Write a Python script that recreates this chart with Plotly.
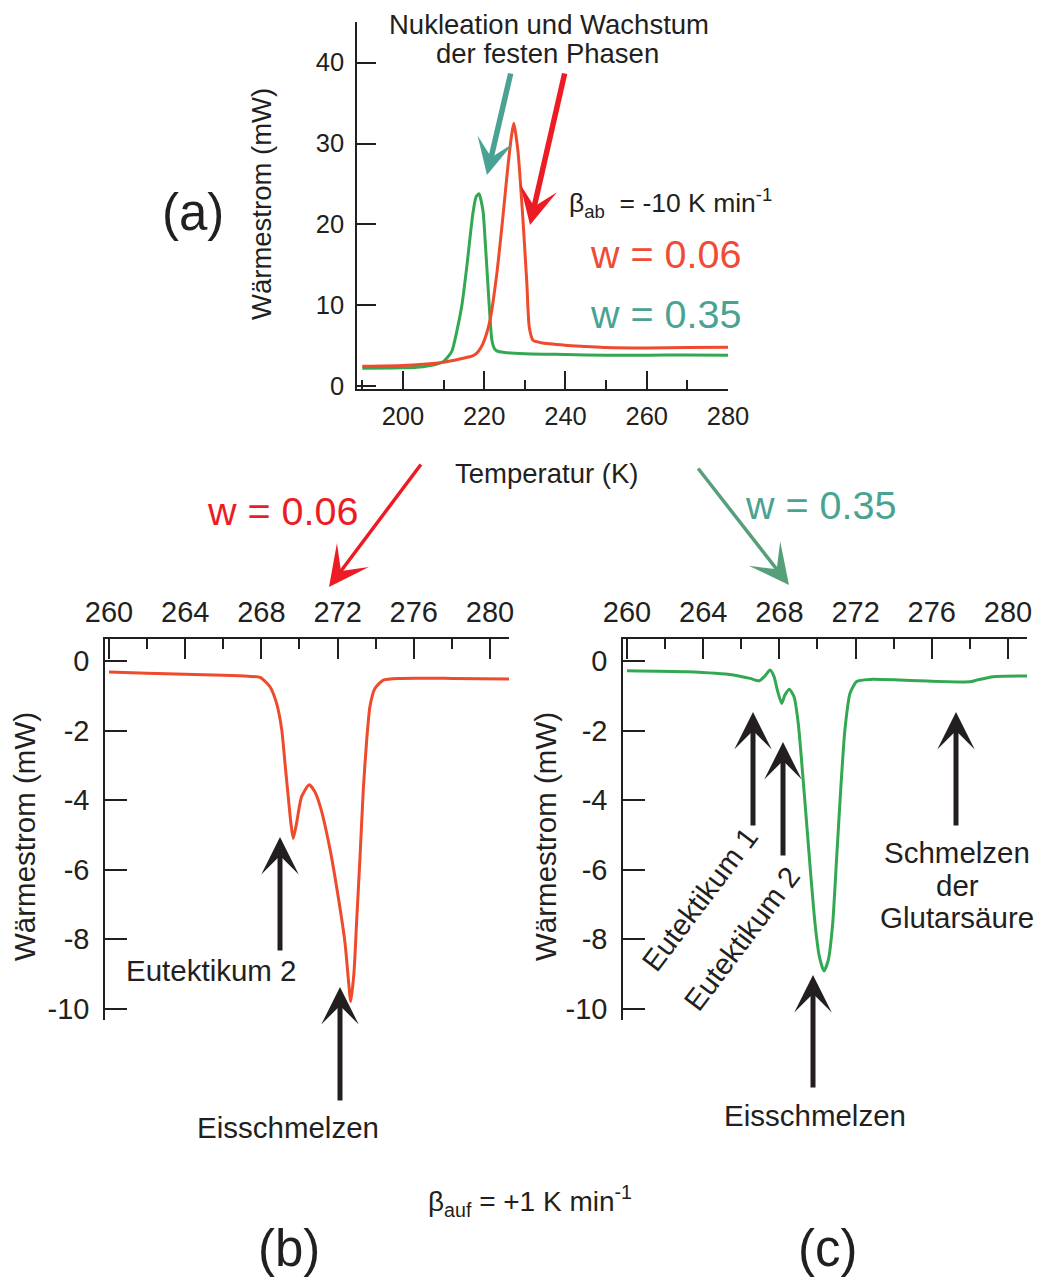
import plotly.graph_objects as go

W, H = 1039, 1282

# ---------------- data ----------------
# Panel (a): cooling run, beta_ab = -10 K/min
a_T_035 = [190, 200, 205, 208, 210, 212, 213.3, 214.5, 215.7, 217.2, 218.0, 218.7, 219.7,
           220.3, 220.9, 221.5, 221.9, 222.5, 223.1, 225, 230, 240, 250, 260, 270, 280]
a_Q_035 = [2.25, 2.3, 2.45, 2.7, 3.1, 4.3, 6.9, 10.0, 14.7, 21.3, 23.4, 23.8, 21.7,
           17.5, 12.7, 8.0, 5.7, 4.7, 4.4, 4.2, 4.05, 3.95, 3.85, 3.85, 3.9, 3.85]
a_T_006 = [190, 200, 205, 210, 214, 217.3, 218.5, 219.7, 221.4, 223.1, 224.6, 225.8, 226.8,
           227.3, 228.3, 229.5, 230.5, 231.1, 232.0, 234, 240, 245, 250, 260, 270, 280]
a_Q_006 = [2.5, 2.6, 2.75, 3.0, 3.4, 3.8, 4.3, 5.3, 8.1, 13.9, 20.9, 27.0, 31.2,
           32.5, 29.1, 20.9, 12.7, 7.3, 5.7, 5.4, 5.1, 4.95, 4.8, 4.75, 4.8, 4.85]

# Panel (b): heating run, w = 0.06
b_T = [260, 262, 264, 266, 267.3, 267.93, 268.45, 268.8, 269.07, 269.24, 269.41, 269.55, 269.67,
       269.85, 270.11, 270.51, 270.8, 271.1, 271.6, 272.04, 272.39, 272.57, 272.69, 272.86,
       273.0, 273.18, 273.35, 273.53, 273.7, 273.96, 274.4, 275.3, 278, 281]
b_Q = [-0.32, -0.35, -0.38, -0.41, -0.44, -0.47, -0.74, -1.22, -1.98, -2.94, -3.9, -4.66, -5.1,
       -4.66, -3.9, -3.56, -3.75, -4.2, -5.4, -6.8, -8.1, -9.17, -9.79, -8.97,
       -7.5, -5.62, -3.7, -2.27, -1.31, -0.79, -0.55, -0.5, -0.5, -0.52]

# Panel (c): heating run, w = 0.35
c_T = [260, 263.13, 265.58, 266.46, 266.95, 267.24, 267.51, 267.72, 267.89, 268.12, 268.29, 268.52,
       268.77, 268.99, 269.22, 269.43, 269.64, 269.87, 270.1, 270.34, 270.57, 270.8, 271.01,
       271.22, 271.44, 271.71, 272.06, 272.76, 275.38, 278.0, 278.36, 279.23, 281.0]
c_Q = [-0.28, -0.31, -0.4, -0.5, -0.57, -0.43, -0.26, -0.45, -0.83, -1.22, -0.98, -0.81,
       -1.03, -1.79, -3.23, -4.66, -6.1, -7.54, -8.5, -8.91, -8.59, -7.54, -5.62,
       -3.7, -1.98, -0.93, -0.59, -0.53, -0.57, -0.6, -0.55, -0.45, -0.43]

a_xticks = [200, 220, 240, 260, 280]
a_yticks = [0, 10, 20, 30, 40]
bc_xticks = [260, 264, 268, 272, 276, 280]
bc_yticks = [0, -2, -4, -6, -8, -10]
bc_ytext = ["0", "-2", "-4", "-6", "-8", "-10"]

# ---------------- styling ----------------
FONT = "Liberation Sans, Arial, Helvetica, sans-serif"
DARK = "#231F20"
RED_CURVE = "#EE4A2C"
GREEN_CURVE = "#33A852"
RED_TXT = "#EF4B36"
RED_ARROW = "#ED1C24"
TEAL = "#4AA392"
GREEN_ARROW = "#55A07A"


def px(x):
    return x / W


def py(y):
    return 1 - y / H


fig = go.Figure()
line_kw = dict(width=3, shape="spline", smoothing=0.6)
fig.add_trace(go.Scatter(x=a_T_035, y=a_Q_035, mode="lines", line=dict(color=GREEN_CURVE, **line_kw),
                         xaxis="x", yaxis="y", showlegend=False))
fig.add_trace(go.Scatter(x=a_T_006, y=a_Q_006, mode="lines", line=dict(color=RED_CURVE, **line_kw),
                         xaxis="x", yaxis="y", showlegend=False))
fig.add_trace(go.Scatter(x=b_T, y=b_Q, mode="lines", line=dict(color=RED_CURVE, **line_kw),
                         xaxis="x2", yaxis="y2", showlegend=False))
fig.add_trace(go.Scatter(x=c_T, y=c_Q, mode="lines", line=dict(color=GREEN_CURVE, **line_kw),
                         xaxis="x3", yaxis="y3", showlegend=False))


def axis(size, **kw):
    d = dict(showgrid=False, zeroline=False, showline=True, linecolor=DARK, linewidth=1.5,
             ticks="inside", tickcolor=DARK, tickwidth=1.5, mirror=False, automargin=False,
             tickfont=dict(family=FONT, color=DARK, size=size))
    d.update(kw)
    return d


minor_kw = dict(ticks="inside", tickcolor=DARK, tickwidth=1.5)

fig.update_layout(
    template="none",
    width=W, height=H, margin=dict(l=0, r=0, t=0, b=0, pad=0),
    paper_bgcolor="white", plot_bgcolor="rgba(0,0,0,0)",
    font=dict(family=FONT, color=DARK),
    showlegend=False,
    xaxis=axis(25.5, domain=[px(357), px(728)], range=[188.7, 280], anchor="y",
               tickvals=a_xticks, ticklen=18, ticklabelstandoff=4,
               minor=dict(dtick=10, tick0=190, ticklen=9, **minor_kw)),
    yaxis=axis(25.5, domain=[py(389), py(22)], range=[-0.31, 45], anchor="x",
               tickvals=a_yticks, ticklen=19, ticklabelstandoff=6),
    xaxis2=axis(29, domain=[px(105), px(509)], range=[259.79, 281.0], anchor="y2", side="top",
                tickvals=bc_xticks, ticklen=20, ticklabelstandoff=4,
                minor=dict(dtick=2, tick0=260, ticklen=10, **minor_kw)),
    yaxis2=axis(29, domain=[py(1020), py(639)], range=[-10.32, 0.632], anchor="x2",
                tickvals=bc_yticks, ticktext=bc_ytext, ticklen=22, ticklabelstandoff=8),
    xaxis3=axis(29, domain=[px(623), px(1027)], range=[259.79, 281.0], anchor="y3", side="top",
                tickvals=bc_xticks, ticklen=20, ticklabelstandoff=4,
                minor=dict(dtick=2, tick0=260, ticklen=10, **minor_kw)),
    yaxis3=axis(29, domain=[py(1020), py(639)], range=[-10.32, 0.632], anchor="x3",
                tickvals=bc_yticks, ticktext=bc_ytext, ticklen=22, ticklabelstandoff=8),
)

ann = []


def text(xp, yp, t, size, color=DARK, angle=0, xanchor="center"):
    ann.append(dict(x=px(xp), y=py(yp), xref="paper", yref="paper", text=t, showarrow=False,
                    font=dict(family=FONT, size=size, color=color), textangle=angle,
                    xanchor=xanchor, yanchor="middle"))


def arrow(tip_x, tip_y, tail_x, tail_y, color, width, size):
    ann.append(dict(x=px(tip_x), y=py(tip_y), xref="paper", yref="paper",
                    ax=tail_x - tip_x, ay=tail_y - tip_y, axref="pixel", ayref="pixel",
                    text="", showarrow=True, arrowhead=3, arrowwidth=width, arrowsize=size,
                    arrowcolor=color, standoff=0))


# panel (a)
text(549, 24, "Nukleation und Wachstum", 27.5)
text(547, 54, "der festen Phasen", 27.5)
text(193, 213, "(a)", 51)
text(261, 204, "Wärmestrom (mW)", 27.5, angle=-90)
text(546, 473, "Temperatur (K)", 27.5)
text(670, 203, "β<sub>ab</sub>  = -10 K min<sup>-1</sup>", 26.5)
text(665, 254, "w = 0.06", 39.5, color=RED_TXT)
text(665, 314, "w = 0.35", 39.5, color=TEAL)
arrow(487, 175, 511, 72, TEAL, 5.5, 1.1)
arrow(530, 225, 565, 72, RED_ARROW, 5.5, 1.15)

# middle arrows
text(282, 511, "w = 0.06", 39.5, color=RED_ARROW)
text(820, 505, "w = 0.35", 39.5, color=TEAL)
arrow(329, 587, 422, 463, RED_ARROW, 3.5, 1.9)
arrow(789, 585, 697, 467, GREEN_ARROW, 3.5, 1.9)

# panel (b)
text(24, 837, "Wärmestrom (mW)", 29.5, angle=-90)
text(211, 970, "Eutektikum 2", 29.5)
text(288, 1127, "Eisschmelzen", 29.5)
arrow(280, 837, 280, 952, DARK, 5, 1.25)
arrow(340, 987, 340, 1102, DARK, 5, 1.25)

# panel (c)
text(545, 837, "Wärmestrom (mW)", 29.5, angle=-90)
text(699, 899, "Eutektikum 1", 29.5, angle=-53)
text(742, 939, "Eutektikum 2", 29.5, angle=-53)
text(957, 852, "Schmelzen", 29.5)
text(957, 885, "der", 29.5)
text(957, 917, "Glutarsäure", 29.5)
text(815, 1115, "Eisschmelzen", 29.5)
arrow(753, 712, 753, 827, DARK, 5, 1.25)
arrow(783, 742, 783, 857, DARK, 5, 1.25)
arrow(956, 712, 956, 827, DARK, 5, 1.25)
arrow(813, 975, 813, 1089, DARK, 5, 1.25)

# bottom
text(530, 1201, "β<sub>auf</sub> = +1 K min<sup>-1</sup>", 28)
text(289, 1248, "(b)", 51)
text(827, 1248, "(c)", 51)

fig.update_layout(annotations=ann)
fig.write_html("out.html")
